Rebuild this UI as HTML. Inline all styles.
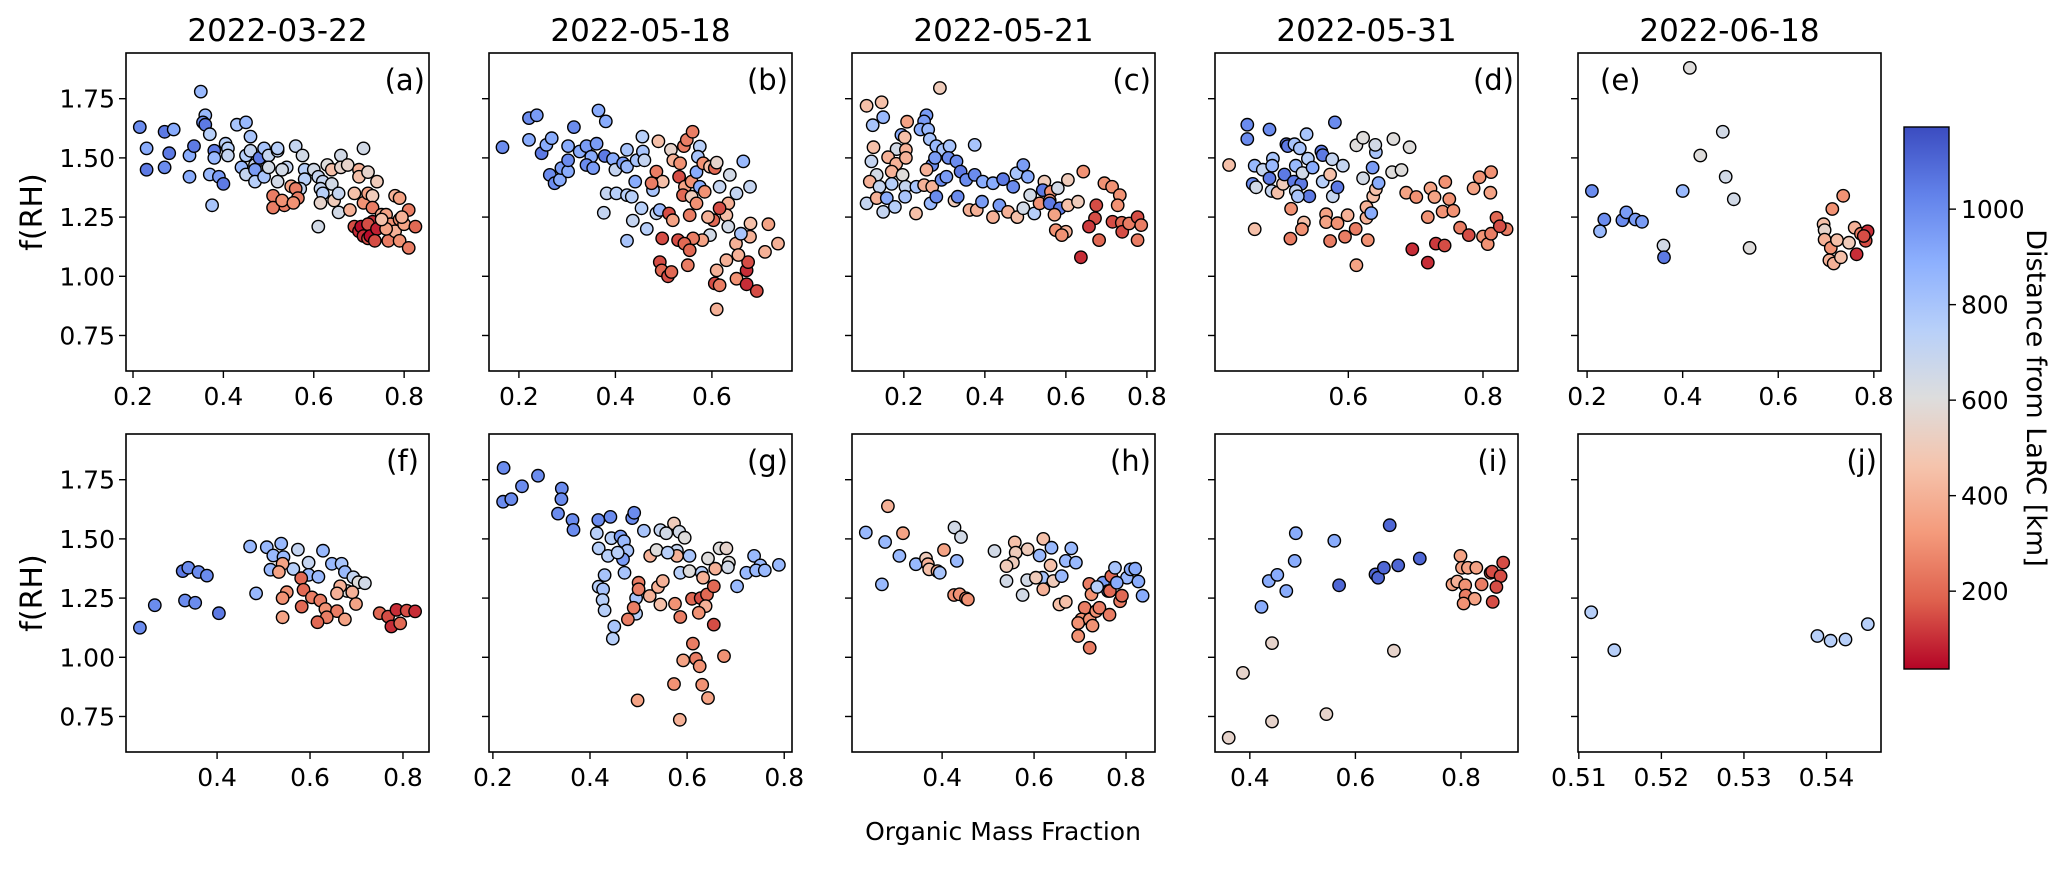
<!DOCTYPE html>
<html><head><meta charset="utf-8"><style>
html,body{margin:0;padding:0;background:#fff;}
svg{display:block;font-family:"DejaVu Sans","Liberation Sans",sans-serif;}
</style></head><body>
<svg id="fig" width="2067" height="872" viewBox="0 0 2067 872" xmlns="http://www.w3.org/2000/svg">
<defs><linearGradient id="cbgrad" x1="0" y1="1" x2="0" y2="0">
<stop offset="0" stop-color="#b40426"/><stop offset="0.125" stop-color="#de604d"/><stop offset="0.25" stop-color="#f49a7b"/><stop offset="0.375" stop-color="#f5c4ad"/><stop offset="0.5" stop-color="#dddddd"/><stop offset="0.625" stop-color="#b8d0f9"/><stop offset="0.75" stop-color="#8db0fe"/><stop offset="0.875" stop-color="#6282ea"/><stop offset="1" stop-color="#3b4cc0"/>
</linearGradient></defs>
</svg>
<script>
const titles=["2022-03-22","2022-05-18","2022-05-21","2022-05-31","2022-06-18"];
const letters=["(a)","(b)","(c)","(d)","(e)","(f)","(g)","(h)","(i)","(j)"];
const yTicks=[0.75,1.00,1.25,1.50,1.75];
const yTickLabels=["0.75","1.00","1.25","1.50","1.75"];
const xLims=[[0.1845,0.855],[0.138,0.766],[0.072,0.82],[0.402,0.852],[0.181,0.815],[0.204,0.856],[0.192,0.816],[0.204,0.863],[0.334,0.908],[0.5099,0.5466]];
const xTicks=[[0.2,0.4,0.6,0.8],[0.2,0.4,0.6],[0.2,0.4,0.6,0.8],[0.6,0.8],[0.2,0.4,0.6,0.8],[0.4,0.6,0.8],[0.2,0.4,0.6,0.8],[0.4,0.6,0.8],[0.4,0.6,0.8],[0.51,0.52,0.53,0.54]];
const cbTicks=[200,400,600,800,1000];
const distMin=37, distMax=1172;

const panelA=[[0.215,1.63,1000],[0.23,1.54,900],[0.23,1.45,1050],[0.27,1.61,1050],[0.29,1.62,900],[0.28,1.52,1050],[0.27,1.46,1000],[0.325,1.42,900],[0.325,1.51,900],[0.335,1.55,1050],[0.35,1.78,850],[0.36,1.68,850],[0.355,1.65,1000],[0.36,1.64,1050],[0.37,1.60,750],[0.38,1.53,1050],[0.38,1.50,850],[0.37,1.43,850],[0.39,1.42,950],[0.40,1.39,1050],[0.375,1.30,800],[0.405,1.56,750],[0.41,1.54,750],[0.41,1.51,700],[0.43,1.64,800],[0.45,1.65,850],[0.46,1.59,800],[0.44,1.46,850],[0.45,1.43,700],[0.45,1.51,750],[0.46,1.53,700],[0.47,1.47,700],[0.47,1.45,950],[0.48,1.50,1050],[0.47,1.40,750],[0.49,1.42,800],[0.49,1.54,800],[0.5,1.51,700],[0.5,1.46,650],[0.52,1.53,700],[0.52,1.54,750],[0.52,1.40,650],[0.54,1.46,700],[0.53,1.45,650],[0.56,1.55,700],[0.575,1.51,650],[0.58,1.45,750],[0.58,1.41,750],[0.57,1.37,700],[0.55,1.38,350],[0.56,1.37,250],[0.565,1.33,250],[0.535,1.30,250],[0.51,1.34,250],[0.51,1.29,250],[0.53,1.32,300],[0.555,1.31,300],[0.60,1.45,650],[0.61,1.42,700],[0.62,1.40,700],[0.615,1.37,700],[0.62,1.35,750],[0.61,1.21,650],[0.615,1.31,550],[0.63,1.47,600],[0.64,1.45,450],[0.64,1.39,650],[0.645,1.32,500],[0.655,1.35,700],[0.66,1.51,650],[0.655,1.27,650],[0.66,1.46,550],[0.675,1.47,550],[0.68,1.28,400],[0.69,1.35,450],[0.70,1.45,400],[0.70,1.42,450],[0.71,1.54,650],[0.72,1.44,550],[0.74,1.40,500],[0.71,1.31,300],[0.72,1.35,350],[0.73,1.34,500],[0.73,1.29,250],[0.69,1.21,150],[0.70,1.19,100],[0.705,1.21,50],[0.71,1.17,100],[0.72,1.16,150],[0.73,1.23,100],[0.72,1.22,150],[0.725,1.17,50],[0.74,1.20,80],[0.735,1.15,150],[0.75,1.26,400],[0.76,1.26,350],[0.765,1.15,250],[0.77,1.22,300],[0.78,1.34,400],[0.79,1.33,350],[0.78,1.19,400],[0.79,1.24,300],[0.8,1.22,350],[0.79,1.15,300],[0.81,1.12,250],[0.81,1.28,250],[0.825,1.21,200],[0.76,1.20,350],[0.75,1.24,450],[0.795,1.25,400]];
const panelB=[[0.166,1.545,1000],[0.221,1.668,1000],[0.237,1.68,950],[0.221,1.576,900],[0.247,1.52,1050],[0.257,1.555,900],[0.268,1.583,900],[0.264,1.428,1000],[0.274,1.393,1000],[0.285,1.407,900],[0.288,1.457,950],[0.302,1.443,900],[0.302,1.49,1000],[0.302,1.55,900],[0.314,1.63,1000],[0.326,1.527,900],[0.34,1.55,950],[0.35,1.505,900],[0.34,1.47,1000],[0.354,1.457,950],[0.361,1.56,950],[0.365,1.70,900],[0.38,1.654,900],[0.378,1.508,1050],[0.395,1.495,900],[0.40,1.45,700],[0.416,1.477,950],[0.424,1.534,800],[0.424,1.463,850],[0.444,1.49,800],[0.456,1.59,750],[0.457,1.527,800],[0.46,1.49,700],[0.441,1.40,900],[0.382,1.35,700],[0.402,1.35,750],[0.424,1.343,750],[0.434,1.336,750],[0.376,1.268,700],[0.436,1.235,700],[0.424,1.15,800],[0.454,1.287,750],[0.465,1.20,750],[0.478,1.364,800],[0.485,1.266,700],[0.492,1.28,850],[0.489,1.57,450],[0.485,1.442,250],[0.498,1.40,450],[0.475,1.393,250],[0.515,1.534,550],[0.52,1.49,400],[0.534,1.477,300],[0.532,1.42,150],[0.542,1.55,250],[0.548,1.576,250],[0.56,1.61,250],[0.544,1.378,350],[0.54,1.343,200],[0.558,1.40,300],[0.558,1.336,500],[0.575,1.548,750],[0.571,1.505,800],[0.568,1.44,900],[0.575,1.378,900],[0.585,1.357,300],[0.582,1.477,300],[0.596,1.463,450],[0.606,1.457,200],[0.61,1.48,550],[0.616,1.378,700],[0.637,1.428,650],[0.651,1.35,700],[0.665,1.485,850],[0.679,1.378,700],[0.634,1.308,400],[0.63,1.258,450],[0.634,1.21,650],[0.616,1.287,150],[0.603,1.237,200],[0.596,1.174,650],[0.592,1.25,400],[0.58,1.153,350],[0.561,1.16,250],[0.568,1.308,300],[0.554,1.258,250],[0.511,1.265,150],[0.519,1.237,350],[0.497,1.16,150],[0.53,1.153,150],[0.543,1.138,200],[0.554,1.11,200],[0.55,1.047,250],[0.492,1.06,150],[0.496,1.025,200],[0.509,1.00,150],[0.516,1.018,200],[0.61,1.025,400],[0.606,0.97,150],[0.616,0.962,250],[0.63,1.068,400],[0.651,0.99,300],[0.672,1.025,100],[0.675,1.06,150],[0.672,0.966,100],[0.693,0.938,150],[0.61,0.86,400],[0.68,1.223,450],[0.679,1.167,400],[0.717,1.22,350],[0.737,1.138,400],[0.71,1.103,400],[0.65,1.138,400],[0.655,1.09,400],[0.66,1.18,800]];
const panelC=[[0.108,1.72,450],[0.145,1.735,450],[0.149,1.672,850],[0.123,1.638,800],[0.289,1.795,500],[0.208,1.653,350],[0.256,1.68,950],[0.25,1.654,950],[0.241,1.62,900],[0.26,1.62,850],[0.194,1.597,900],[0.202,1.587,450],[0.264,1.579,800],[0.125,1.545,450],[0.182,1.537,650],[0.205,1.534,400],[0.28,1.55,850],[0.297,1.534,800],[0.313,1.55,800],[0.375,1.555,800],[0.12,1.485,700],[0.161,1.503,400],[0.181,1.475,400],[0.205,1.50,400],[0.27,1.47,1000],[0.277,1.50,950],[0.31,1.50,1000],[0.33,1.485,1000],[0.133,1.428,650],[0.17,1.442,400],[0.197,1.428,600],[0.256,1.45,400],[0.116,1.40,400],[0.14,1.378,700],[0.17,1.39,750],[0.204,1.378,700],[0.231,1.378,800],[0.25,1.385,400],[0.27,1.378,400],[0.293,1.407,1000],[0.305,1.42,950],[0.34,1.442,1050],[0.354,1.407,1000],[0.375,1.428,1000],[0.395,1.40,900],[0.42,1.393,900],[0.445,1.41,1050],[0.47,1.378,1000],[0.478,1.435,800],[0.495,1.47,950],[0.506,1.42,900],[0.108,1.308,700],[0.133,1.33,400],[0.158,1.33,900],[0.178,1.293,750],[0.203,1.336,800],[0.149,1.272,700],[0.23,1.265,450],[0.266,1.308,850],[0.28,1.336,1000],[0.325,1.32,500],[0.333,1.336,1000],[0.362,1.28,400],[0.38,1.28,400],[0.393,1.315,950],[0.42,1.25,400],[0.436,1.30,950],[0.457,1.272,400],[0.48,1.25,450],[0.495,1.287,650],[0.512,1.343,650],[0.522,1.265,750],[0.535,1.308,300],[0.547,1.40,500],[0.543,1.364,1050],[0.563,1.357,300],[0.58,1.372,650],[0.605,1.407,500],[0.56,1.32,300],[0.56,1.308,1050],[0.585,1.287,1050],[0.572,1.26,350],[0.605,1.30,450],[0.63,1.315,500],[0.575,1.195,300],[0.6,1.188,400],[0.59,1.174,300],[0.643,1.442,300],[0.695,1.393,300],[0.714,1.378,300],[0.733,1.343,300],[0.728,1.30,300],[0.675,1.30,150],[0.672,1.245,150],[0.657,1.21,120],[0.682,1.153,200],[0.715,1.23,150],[0.738,1.226,200],[0.739,1.188,150],[0.756,1.223,250],[0.777,1.25,150],[0.786,1.216,250],[0.777,1.153,250],[0.637,1.08,100]];
const panelD=[[0.423,1.47,450],[0.45,1.64,1000],[0.45,1.58,1000],[0.483,1.62,1000],[0.461,1.467,850],[0.458,1.39,1000],[0.463,1.376,650],[0.473,1.45,700],[0.488,1.497,800],[0.487,1.467,850],[0.483,1.414,1050],[0.486,1.36,700],[0.495,1.353,450],[0.503,1.39,500],[0.508,1.558,1050],[0.51,1.55,1050],[0.52,1.558,800],[0.528,1.54,800],[0.538,1.60,800],[0.522,1.467,850],[0.505,1.43,1050],[0.519,1.40,1050],[0.53,1.39,1050],[0.532,1.436,650],[0.54,1.497,750],[0.547,1.459,900],[0.542,1.338,1050],[0.522,1.36,700],[0.525,1.338,800],[0.56,1.527,1050],[0.562,1.512,1050],[0.576,1.494,700],[0.592,1.467,700],[0.562,1.40,750],[0.577,1.338,700],[0.584,1.376,1050],[0.573,1.43,450],[0.58,1.65,1000],[0.515,1.285,300],[0.534,1.227,450],[0.531,1.199,300],[0.514,1.159,250],[0.461,1.199,450],[0.567,1.262,350],[0.567,1.229,350],[0.584,1.224,300],[0.599,1.258,400],[0.595,1.167,250],[0.573,1.149,250],[0.611,1.20,250],[0.612,1.047,350],[0.629,1.153,300],[0.627,1.247,400],[0.627,1.292,400],[0.637,1.338,450],[0.641,1.368,450],[0.645,1.394,900],[0.636,1.459,950],[0.641,1.524,800],[0.64,1.555,650],[0.622,1.414,650],[0.612,1.553,600],[0.622,1.585,600],[0.634,1.267,900],[0.667,1.58,600],[0.691,1.545,600],[0.665,1.44,600],[0.679,1.449,600],[0.686,1.353,350],[0.701,1.335,300],[0.695,1.114,100],[0.718,1.25,300],[0.722,1.371,350],[0.728,1.335,350],[0.744,1.398,300],[0.75,1.326,300],[0.74,1.273,300],[0.756,1.277,300],[0.718,1.058,100],[0.73,1.138,120],[0.743,1.13,150],[0.766,1.205,250],[0.779,1.174,150],[0.786,1.371,350],[0.795,1.418,300],[0.812,1.44,300],[0.811,1.353,350],[0.8,1.168,300],[0.807,1.136,300],[0.812,1.18,250],[0.82,1.247,200],[0.835,1.199,250],[0.825,1.211,150]];
const panelE=[[0.415,1.88,600],[0.21,1.36,1000],[0.236,1.24,1000],[0.227,1.19,850],[0.274,1.237,1000],[0.282,1.27,950],[0.301,1.24,950],[0.315,1.23,950],[0.40,1.36,850],[0.36,1.13,650],[0.361,1.08,1050],[0.437,1.51,600],[0.484,1.61,650],[0.49,1.42,650],[0.507,1.325,650],[0.54,1.12,600],[0.736,1.34,300],[0.713,1.284,300],[0.695,1.22,450],[0.697,1.195,550],[0.697,1.155,400],[0.71,1.12,300],[0.723,1.153,450],[0.707,1.068,400],[0.716,1.054,400],[0.731,1.08,450],[0.748,1.142,500],[0.76,1.205,400],[0.773,1.18,250],[0.787,1.19,100],[0.783,1.15,150],[0.764,1.093,100],[0.779,1.17,150]];
const panelF=[[0.234,1.125,1000],[0.266,1.22,1000],[0.326,1.364,1050],[0.338,1.378,1000],[0.36,1.36,1000],[0.378,1.345,1000],[0.331,1.24,1000],[0.353,1.23,1000],[0.404,1.186,1050],[0.471,1.468,850],[0.484,1.27,850],[0.507,1.465,850],[0.521,1.43,850],[0.538,1.48,850],[0.543,1.423,850],[0.515,1.37,850],[0.574,1.455,700],[0.564,1.373,750],[0.597,1.40,700],[0.628,1.45,850],[0.597,1.348,850],[0.618,1.34,850],[0.647,1.395,850],[0.668,1.395,800],[0.675,1.36,850],[0.693,1.338,700],[0.704,1.317,600],[0.718,1.313,650],[0.68,1.28,600],[0.541,1.395,350],[0.533,1.36,350],[0.581,1.334,200],[0.55,1.275,300],[0.541,1.25,300],[0.541,1.169,350],[0.586,1.285,200],[0.604,1.253,250],[0.622,1.24,250],[0.582,1.214,200],[0.633,1.204,300],[0.665,1.30,400],[0.658,1.27,400],[0.658,1.195,250],[0.636,1.169,250],[0.616,1.148,200],[0.675,1.16,350],[0.691,1.275,400],[0.699,1.225,350],[0.75,1.186,200],[0.768,1.172,150],[0.775,1.13,100],[0.786,1.20,100],[0.794,1.143,200],[0.808,1.197,150],[0.826,1.194,100]];
const panelG=[[0.222,1.80,1000],[0.221,1.657,1000],[0.238,1.668,1000],[0.26,1.722,1000],[0.293,1.767,1000],[0.342,1.713,1000],[0.341,1.668,1000],[0.334,1.607,1000],[0.364,1.58,1000],[0.366,1.538,1000],[0.417,1.58,1000],[0.442,1.593,1000],[0.487,1.588,1000],[0.491,1.61,1000],[0.414,1.524,750],[0.418,1.46,750],[0.437,1.428,750],[0.444,1.503,750],[0.463,1.51,950],[0.47,1.49,850],[0.477,1.45,800],[0.468,1.414,950],[0.457,1.442,750],[0.511,1.534,800],[0.471,1.357,800],[0.43,1.347,800],[0.418,1.298,750],[0.427,1.287,800],[0.426,1.242,750],[0.43,1.198,750],[0.45,1.13,800],[0.447,1.079,750],[0.495,1.25,800],[0.495,1.184,750],[0.5,1.315,250],[0.5,1.287,250],[0.49,1.209,250],[0.478,1.16,250],[0.523,1.259,400],[0.54,1.297,400],[0.55,1.322,400],[0.545,1.223,450],[0.524,1.428,400],[0.537,1.453,600],[0.545,1.537,700],[0.557,1.524,650],[0.573,1.565,500],[0.584,1.53,650],[0.595,1.505,600],[0.579,1.45,700],[0.579,1.428,400],[0.56,1.442,750],[0.605,1.428,800],[0.586,1.357,750],[0.605,1.364,600],[0.63,1.357,750],[0.643,1.417,600],[0.658,1.374,400],[0.633,1.336,400],[0.667,1.46,600],[0.681,1.46,550],[0.686,1.40,600],[0.684,1.38,650],[0.575,1.226,300],[0.586,1.17,250],[0.61,1.247,200],[0.628,1.25,150],[0.641,1.265,200],[0.655,1.30,200],[0.638,1.216,400],[0.624,1.188,300],[0.655,1.138,150],[0.612,1.058,250],[0.592,0.987,350],[0.618,0.994,250],[0.626,0.962,300],[0.676,1.005,300],[0.573,0.887,300],[0.631,0.884,300],[0.643,0.828,350],[0.498,0.818,350],[0.585,0.736,400],[0.703,1.30,850],[0.722,1.357,850],[0.738,1.428,850],[0.751,1.388,850],[0.742,1.367,850],[0.76,1.367,850],[0.789,1.39,850]];
const panelH=[[0.234,1.527,850],[0.276,1.487,850],[0.282,1.638,400],[0.307,1.428,850],[0.315,1.524,350],[0.269,1.308,850],[0.343,1.393,850],[0.365,1.417,500],[0.369,1.393,400],[0.372,1.371,450],[0.39,1.364,400],[0.395,1.357,800],[0.404,1.453,350],[0.427,1.548,650],[0.441,1.508,650],[0.432,1.407,850],[0.426,1.263,300],[0.438,1.266,300],[0.452,1.249,250],[0.456,1.244,300],[0.514,1.449,650],[0.558,1.485,450],[0.56,1.442,500],[0.554,1.40,500],[0.54,1.385,500],[0.54,1.322,650],[0.585,1.326,650],[0.575,1.263,650],[0.586,1.456,500],[0.612,1.43,850],[0.62,1.50,450],[0.638,1.463,850],[0.636,1.388,450],[0.618,1.336,800],[0.62,1.287,400],[0.604,1.336,500],[0.642,1.322,500],[0.66,1.343,850],[0.669,1.407,850],[0.681,1.46,850],[0.691,1.40,850],[0.655,1.223,450],[0.669,1.234,450],[0.72,1.31,250],[0.725,1.266,300],[0.71,1.209,250],[0.703,1.16,300],[0.696,1.145,300],[0.696,1.09,300],[0.721,1.04,250],[0.721,1.16,300],[0.735,1.195,300],[0.727,1.134,300],[0.742,1.209,250],[0.75,1.315,950],[0.761,1.28,1000],[0.768,1.343,200],[0.765,1.28,200],[0.764,1.18,250],[0.776,1.378,800],[0.787,1.237,250],[0.791,1.26,200],[0.802,1.336,850],[0.81,1.371,900],[0.82,1.374,900],[0.827,1.32,900],[0.836,1.26,900],[0.78,1.315,900],[0.737,1.297,750]];
const panelI=[[0.36,0.66,550],[0.387,0.934,550],[0.442,0.729,550],[0.442,1.06,550],[0.545,0.76,550],[0.673,1.028,550],[0.422,1.213,900],[0.436,1.322,900],[0.452,1.348,900],[0.469,1.28,900],[0.485,1.407,900],[0.487,1.524,900],[0.56,1.492,900],[0.569,1.304,1100],[0.638,1.35,1100],[0.643,1.336,1100],[0.654,1.378,1100],[0.665,1.558,1100],[0.681,1.388,1100],[0.722,1.417,1100],[0.799,1.428,350],[0.802,1.378,350],[0.813,1.378,350],[0.829,1.378,350],[0.784,1.308,350],[0.793,1.32,400],[0.808,1.304,300],[0.809,1.261,250],[0.826,1.247,350],[0.805,1.227,300],[0.839,1.308,250],[0.856,1.357,200],[0.859,1.362,150],[0.875,1.343,150],[0.867,1.297,150],[0.88,1.40,150],[0.86,1.234,150]];
const panelJ=[[0.5115,1.19,750],[0.5143,1.03,750],[0.5389,1.09,750],[0.5405,1.07,750],[0.5423,1.075,750],[0.545,1.14,750]];
const panels=[panelA,panelB,panelC,panelD,panelE,panelF,panelG,panelH,panelI,panelJ];

const NS="http://www.w3.org/2000/svg";
const svg=document.getElementById('fig');
const colLeft=[126,489,852,1215,1578], W=303;
const rowTop=[53,434], H=318;
const yMin=0.6, yMax=1.943;
const cmStops=[[59,76,192],[98,130,234],[141,176,254],[184,208,249],[221,221,221],[245,196,173],[244,154,123],[222,96,77],[180,4,38]];
function cmap(d){
  let t=1-(d-distMin)/(distMax-distMin); t=Math.max(0,Math.min(1,t));
  const p=t*8, i=Math.min(7,Math.floor(p)), f=p-i, a=cmStops[i], b=cmStops[i+1];
  return 'rgb('+a.map((v,k)=>Math.round(v+(b[k]-v)*f)).join(',')+')';
}
function mk(tag,attrs,parent){const e=document.createElementNS(NS,tag);for(const k in attrs)e.setAttribute(k,attrs[k]);(parent||svg).appendChild(e);return e;}

for(let p=0;p<10;p++){
  const col=p%5,row=Math.floor(p/5);
  const L=colLeft[col],T=rowTop[row];
  const [x0,x1]=xLims[p];
  const sx=v=>L+(v-x0)/(x1-x0)*W;
  const sy=v=>T+(yMax-v)/(yMax-yMin)*H;
  const g=mk('g',{});
  
  
  for(const pt of panels[p]){
    const c=mk('circle',{cx:sx(pt[0]).toFixed(1),cy:sy(pt[1]).toFixed(1),r:6.2,fill:cmap(pt[2]),stroke:'#000','stroke-width':1.4},g);
    
    
  }
  const fr=mk('rect',{x:L,y:T,width:W,height:H,fill:'none',stroke:'#000','stroke-width':1.6},g);
  
  
  yTicks.forEach((v,i)=>{
    const y=sy(v);
    mk('line',{x1:L-7,x2:L,y1:y,y2:y,stroke:'#000','stroke-width':1.4},g);
    if(col===0){
      const t=mk('text',{x:L-11,y:y+9,'text-anchor':'end','font-size':25},g);
      t.textContent=yTickLabels[i];
      
      
    }
  });
  xTicks[p].forEach(v=>{
    const x=sx(v);
    mk('line',{x1:x,x2:x,y1:T+H,y2:T+H+7,stroke:'#000','stroke-width':1.4},g);
    const t=mk('text',{x:x,y:T+H+34,'text-anchor':'middle','font-size':25},g);
    t.textContent=(p===9?v.toFixed(2):v.toFixed(1));
    
    
  });
  const lt=(p===4)?mk('text',{x:L+22,y:T+37,'font-size':29},g):mk('text',{x:L+W-(p===5||p===8?10:4),y:T+37,'text-anchor':'end','font-size':29},g);
  lt.textContent=letters[p];
  
  
  if(row===0){
    const tt=mk('text',{x:L+W/2,y:41,'text-anchor':'middle','font-size':31});
    tt.textContent=titles[col];
    
    
  }
}
for(let r=0;r<2;r++){
  const cy=rowTop[r]+H/2;
  const yl=mk('text',{x:0,y:0,'text-anchor':'middle','font-size':30,transform:'translate(42,'+cy+') rotate(-90)'});
  yl.textContent='f(RH)';
  
  
}
const xl=mk('text',{x:1003,y:840,'text-anchor':'middle','font-size':25});
xl.textContent='Organic Mass Fraction';



// colorbar
const cbX=1904,cbW=45,cbT=127,cbB=669;
const cbs=v=>cbB-(v-distMin)/(distMax-distMin)*(cbB-cbT);
const cb=mk('rect',{x:cbX,y:cbT,width:cbW,height:cbB-cbT,fill:'url(#cbgrad)',stroke:'#000','stroke-width':1.4});


cbTicks.forEach(v=>{
  const y=cbs(v);
  mk('line',{x1:cbX+cbW,x2:cbX+cbW+7,y1:y,y2:y,stroke:'#000','stroke-width':1.4});
  const t=mk('text',{x:cbX+cbW+12,y:y+9,'font-size':25});
  t.textContent=String(v);
  
  
});
const cl=mk('text',{x:0,y:0,'text-anchor':'middle','font-size':27,transform:'translate(2027,398) rotate(90)'});
cl.textContent='Distance from LaRC [km]';


</script>
</body></html>
